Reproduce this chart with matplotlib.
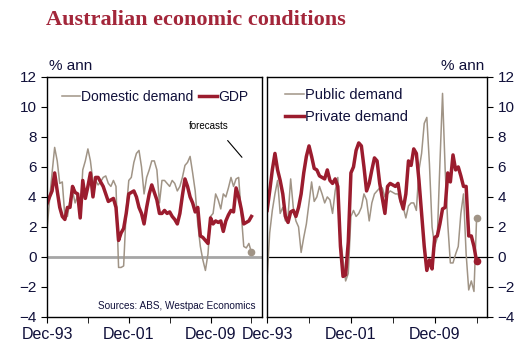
import numpy as np
import pandas as pd
import matplotlib
matplotlib.use('Agg')
import matplotlib.pyplot as plt
import matplotlib.dates as mdates

# quarterly, Dec-93 to Dec-13, % ann
gdp = [3.55, 4.0, 4.4, 5.6, 4.4, 3.3, 2.7, 2.5, 3.3, 3.3, 4.7, 4.3, 4.2, 2.6, 5.1, 3.9,
       4.7, 5.6, 4.0, 5.3, 5.3, 5.0, 4.7, 4.2, 3.7, 3.8, 3.9, 3.3, 1.1, 1.6, 1.9, 2.9,
       4.2, 4.3, 4.4, 4.0, 3.3, 2.9, 2.2, 3.3, 4.2, 4.8, 4.3, 3.8, 2.9, 2.9, 3.1, 2.9,
       3.0, 2.7, 2.5, 2.2, 2.9, 4.1, 5.2, 4.7, 4.0, 3.6, 3.0, 3.3, 1.4, 1.3, 1.1, 0.9,
       2.6, 2.2, 2.4, 2.3, 2.4, 1.7, 2.4, 2.8, 3.1, 3.0, 4.6, 4.0, 3.2, 2.2, 2.3, 2.4, 2.7]
domestic = [1.8, 3.8, 5.6, 7.3, 6.4, 4.9, 5.0, 2.7, 2.7, 3.8, 4.4, 3.6, 4.1, 2.7, 5.8, 6.4,
            7.2, 6.4, 5.0, 5.1, 4.8, 5.0, 5.3, 5.4, 4.9, 4.7, 5.1, 4.7, -0.7, -0.7, -0.6, 3.1,
            5.1, 5.3, 6.3, 6.9, 7.1, 6.0, 4.2, 5.3, 5.8, 6.4, 6.4, 5.8, 3.6, 5.1, 5.1, 4.9,
            4.7, 5.1, 4.9, 4.4, 4.7, 5.3, 6.1, 6.3, 6.7, 5.6, 4.4, 2.2, 0.7, -0.2, -0.9, 0.2,
            2.7, 2.9, 4.2, 3.8, 3.2, 4.2, 4.0, 4.6, 5.3, 4.7, 5.2, 5.3, 2.9, 0.7, 0.6, 0.9, 0.3]
private = [3.1, 4.4, 5.8, 6.9, 5.8, 5.1, 4.2, 2.7, 2.3, 3.0, 3.1, 2.7, 3.3, 4.2, 5.6, 6.7,
           7.4, 6.7, 5.9, 5.8, 5.4, 5.3, 5.2, 5.8, 5.1, 4.9, 5.2, 4.7, 0.7, -1.3, -1.2, 1.0,
           5.6, 6.0, 7.1, 7.6, 7.4, 6.0, 4.4, 4.9, 5.8, 6.6, 6.4, 4.9, 3.9, 2.9, 4.7, 4.9,
           4.8, 4.7, 4.9, 3.8, 3.2, 4.2, 6.4, 6.1, 7.2, 6.9, 5.1, 2.9, 0.7, -0.9, -0.2, -0.8,
           1.3, 1.4, 2.2, 3.2, 3.3, 5.6, 5.0, 6.8, 5.8, 6.0, 5.4, 4.7, 4.7, 1.4, 1.4, 0.7, -0.3]
public = [-1.4, 1.6, 3.1, 4.2, 5.1, 2.9, 3.3, 2.4, 2.7, 5.2, 3.3, 2.4, 2.0, 0.3, 1.3, 2.2,
          3.6, 5.0, 3.7, 4.0, 4.7, 4.2, 3.6, 4.0, 3.8, 2.9, 4.4, 5.3, 1.3, -0.2, -1.6, -1.1,
          2.7, 3.1, 2.7, 2.9, 3.3, 4.2, 3.8, 2.4, 3.6, 4.2, 4.4, 4.6, 4.6, 4.0, 4.2, 4.4,
          4.3, 4.2, 4.2, 3.6, 3.3, 2.6, 3.4, 3.6, 3.6, 3.1, 5.8, 6.9, 8.9, 9.3, 6.2, 2.0,
          0.7, 1.3, 6.2, 10.9, 5.8, 2.2, -0.4, -0.4, 0.2, 0.7, 2.9, 4.2, 0.2, -2.2, -1.6, -2.3, 2.6]

dates = pd.date_range('1993-12-31', periods=len(gdp), freq='QE-DEC')

RED = '#9b1c2e'
GREY = '#a09486'
TXT = '#10103a'
plt.rcParams['font.family'] = ['Liberation Sans', 'DejaVu Sans']
plt.rcParams['font.size'] = 10

fig = plt.figure(figsize=(5.3, 3.61), dpi=100)
fig.text(0.087, 0.945, 'Australian economic conditions', family='Liberation Serif',
         weight='bold', size=16, color='#a3263a', va='center')

ax1 = fig.add_axes([0.0887, 0.122, 0.405, 0.665])
ax2 = fig.add_axes([0.504, 0.122, 0.415, 0.665])

xmin = pd.Timestamp('1993-12-31')
xmax = pd.Timestamp('2014-12-31')
major = [pd.Timestamp('%d-12-31' % y) for y in (1993, 2001, 2009)]
minor = [pd.Timestamp('%d-12-31' % y) for y in (1997, 2005, 2013)]

for ax in (ax1, ax2):
    ax.set_xlim(xmin, xmax)
    ax.set_ylim(-4, 12)
    ax.set_yticks(range(-4, 13, 2))
    ax.set_xticks(major)
    ax.set_xticks(minor, minor=True)
    ax.xaxis.set_major_formatter(mdates.DateFormatter('Dec-%y'))
    ax.tick_params(axis='both', which='both', direction='out', length=4, colors='black',
                   labelcolor=TXT, labelsize=11)
    ax.tick_params(axis='x', labelsize=11.5)
    for s in ax.spines.values():
        s.set_linewidth(1.0)

# left panel
ax1.axhline(0, color='#a6a6a6', lw=2, zorder=1)
ax1.plot(dates, domestic, color=GREY, lw=1.1, label='Domestic demand')
ax1.plot(dates, gdp, color=RED, lw=2.5, label='GDP')
ax1.plot(dates[-1], domestic[-1], 'o', color=GREY, ms=4.5)
ax1.legend(loc='upper left', bbox_to_anchor=(0.03, 0.98), ncol=2, frameon=False,
           handlelength=1.3, handletextpad=0.1, columnspacing=0.4, labelcolor=TXT,
           fontsize=10, borderaxespad=0.2)
ax1.text(0.66, 0.785, 'forecasts', transform=ax1.transAxes, size=7, color='black')
ax1.annotate('', xy=(pd.Timestamp('2013-03-31'), 6.5), xytext=(pd.Timestamp('2011-06-30'), 7.9),
             arrowprops=dict(arrowstyle='-', color='black', lw=0.8))
ax1.text(0.97, 0.025, 'Sources: ABS, Westpac Economics', transform=ax1.transAxes,
         ha='right', va='bottom', size=7.2, color=TXT)
ax1.text(0.01, 1.015, '% ann', transform=ax1.transAxes, ha='left', va='bottom',
         size=11, color=TXT)

# right panel
ax2.axhline(0, color='black', lw=0.9, zorder=1)
ax2.plot(dates, public, color=GREY, lw=1.1, label='Public demand')
ax2.plot(dates, private, color=RED, lw=2.5, label='Private demand')
ax2.plot(dates[-1], public[-1], 'o', color=GREY, ms=4.5)
ax2.plot(dates[-1], private[-1], 'o', color=RED, ms=4.5)
ax2.yaxis.tick_right()
ax2.legend(loc='upper left', bbox_to_anchor=(0.04, 0.99), frameon=False,
           handlelength=1.3, handletextpad=0.1, labelcolor=TXT, fontsize=10.5,
           labelspacing=0.55, borderaxespad=0.2)
ax2.text(0.985, 1.015, '% ann', transform=ax2.transAxes, ha='right', va='bottom',
         size=11, color=TXT)

fig.savefig('out.png', dpi=100)
